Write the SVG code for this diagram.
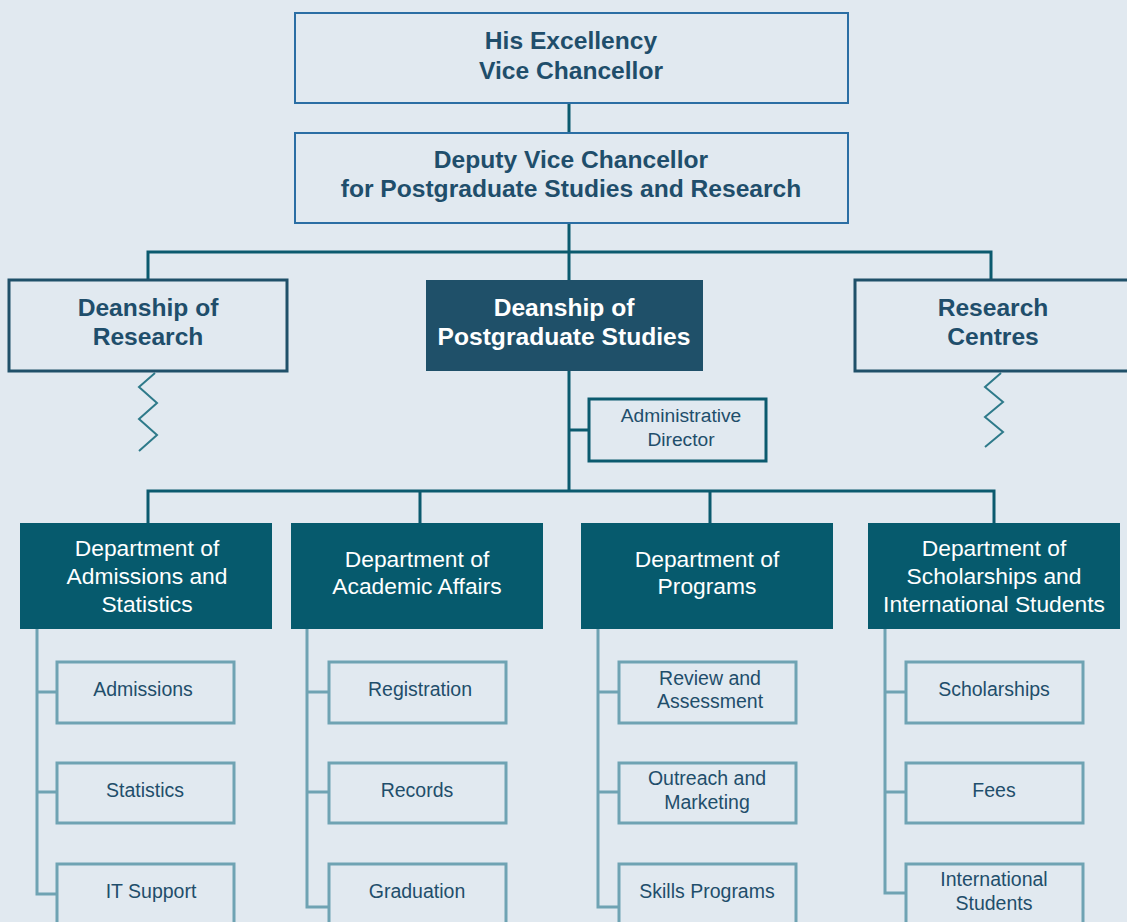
<svg xmlns="http://www.w3.org/2000/svg" width="1127" height="922" viewBox="0 0 1127 922">
<style>
text{font-family:"Liberation Sans",Arial,sans-serif;text-anchor:middle;dominant-baseline:central}
.top rect{fill:none;stroke:#2b6ea4;stroke-width:2}
.top text,.dean text{font-weight:bold;font-size:24.6px;fill:#1f4e6b}
.dean rect{fill:none;stroke:#1f5069;stroke-width:3}
.deanpg rect{fill:#1f5069}
.deanpg text{font-weight:bold;font-size:24.6px;fill:#fff}
.admin rect{fill:none;stroke:#0b5a6e;stroke-width:3}
.admin text{font-size:19.2px;fill:#1f4e6b}
.dept rect{fill:#065a6d}
.dept text{font-size:22.8px;fill:#fff}
.sub rect{fill:none;stroke:#6fa3b3;stroke-width:3}
.sub text{font-size:19.5px;fill:#1f4e6b}
.main{fill:none;stroke:#0b5a6e;stroke-width:3}
.spine{fill:none;stroke:#6fa3b3;stroke-width:3}
.zig{fill:none;stroke:#2e7a8a;stroke-width:2}
</style>
<rect width="1127" height="922" fill="#e1e9f0"/>
<g id="connectors">
<path class="main" d="M569 103V133M569 223V280M148 280V252H991V280M569 371V491M569 430H589M148 523V491H994V523M420 491V523M710 491V523"/>
<path class="zig" d="M155 373L139 387L157 403L139 419L157 435L139 451"/>
<path class="zig" d="M1001 373L985 387L1003 402L985 417L1003 432L985 447"/>
<path class="spine" d="M37 629V894H57M37 692H57M37 792H57"/>
<path class="spine" d="M307 629V907H329M307 692H329M307 792H329"/>
<path class="spine" d="M598 629V907H619M598 692H619M598 792H619"/>
<path class="spine" d="M885 629V893H906M885 692H906M885 792H906"/>
</g>
<g id="vc" class="top"><rect x="295" y="13" width="553" height="90"/><text x="571" y="40">His Excellency</text><text x="571" y="70">Vice Chancellor</text></g>
<g id="dvc" class="top"><rect x="295" y="133" width="553" height="90"/><text x="571" y="159">Deputy Vice Chancellor</text><text x="571" y="188">for Postgraduate Studies and Research</text></g>
<g id="dr" class="dean"><rect x="9" y="280" width="278" height="91"/><text x="148" y="307">Deanship of</text><text x="148" y="336">Research</text></g>
<g id="dpg" class="deanpg"><rect x="426" y="280" width="277" height="91"/><text x="564" y="307">Deanship of</text><text x="564" y="336">Postgraduate Studies</text></g>
<g id="rc" class="dean"><rect x="855" y="280" width="280" height="91"/><text x="993" y="307">Research</text><text x="993" y="336">Centres</text></g>
<g id="ad" class="admin"><rect x="589" y="399" width="177" height="62"/><text x="681" y="415">Administrative</text><text x="681" y="439">Director</text></g>
<g id="d1" class="dept"><rect x="20" y="523" width="252" height="106"/><text x="147" y="548">Department of</text><text x="147" y="576">Admissions and</text><text x="147" y="604">Statistics</text></g>
<g id="d2" class="dept"><rect x="291" y="523" width="252" height="106"/><text x="417" y="559">Department of</text><text x="417" y="586">Academic Affairs</text></g>
<g id="d3" class="dept"><rect x="581" y="523" width="252" height="106"/><text x="707" y="559">Department of</text><text x="707" y="586">Programs</text></g>
<g id="d4" class="dept"><rect x="868" y="523" width="252" height="106"/><text x="994" y="548">Department of</text><text x="994" y="576">Scholarships and</text><text x="994" y="604">International Students</text></g>
<g id="s11" class="sub"><rect x="57" y="662" width="177" height="61"/><text x="143" y="689">Admissions</text></g>
<g id="s12" class="sub"><rect x="57" y="763" width="177" height="60"/><text x="145" y="790">Statistics</text></g>
<g id="s13" class="sub"><rect x="57" y="864" width="177" height="62"/><text x="151" y="891">IT Support</text></g>
<g id="s21" class="sub"><rect x="329" y="662" width="177" height="61"/><text x="420" y="689">Registration</text></g>
<g id="s22" class="sub"><rect x="329" y="763" width="177" height="60"/><text x="417" y="790">Records</text></g>
<g id="s23" class="sub"><rect x="329" y="864" width="177" height="62"/><text x="417" y="891">Graduation</text></g>
<g id="s31" class="sub"><rect x="619" y="662" width="177" height="61"/><text x="710" y="678">Review and</text><text x="710" y="701">Assessment</text></g>
<g id="s32" class="sub"><rect x="619" y="763" width="177" height="60"/><text x="707" y="778">Outreach and</text><text x="707" y="802">Marketing</text></g>
<g id="s33" class="sub"><rect x="619" y="864" width="177" height="62"/><text x="707" y="891">Skills Programs</text></g>
<g id="s41" class="sub"><rect x="906" y="662" width="177" height="61"/><text x="994" y="689">Scholarships</text></g>
<g id="s42" class="sub"><rect x="906" y="763" width="177" height="60"/><text x="994" y="790">Fees</text></g>
<g id="s43" class="sub"><rect x="906" y="864" width="177" height="62"/><text x="994" y="879">International</text><text x="994" y="903">Students</text></g>
</svg>
